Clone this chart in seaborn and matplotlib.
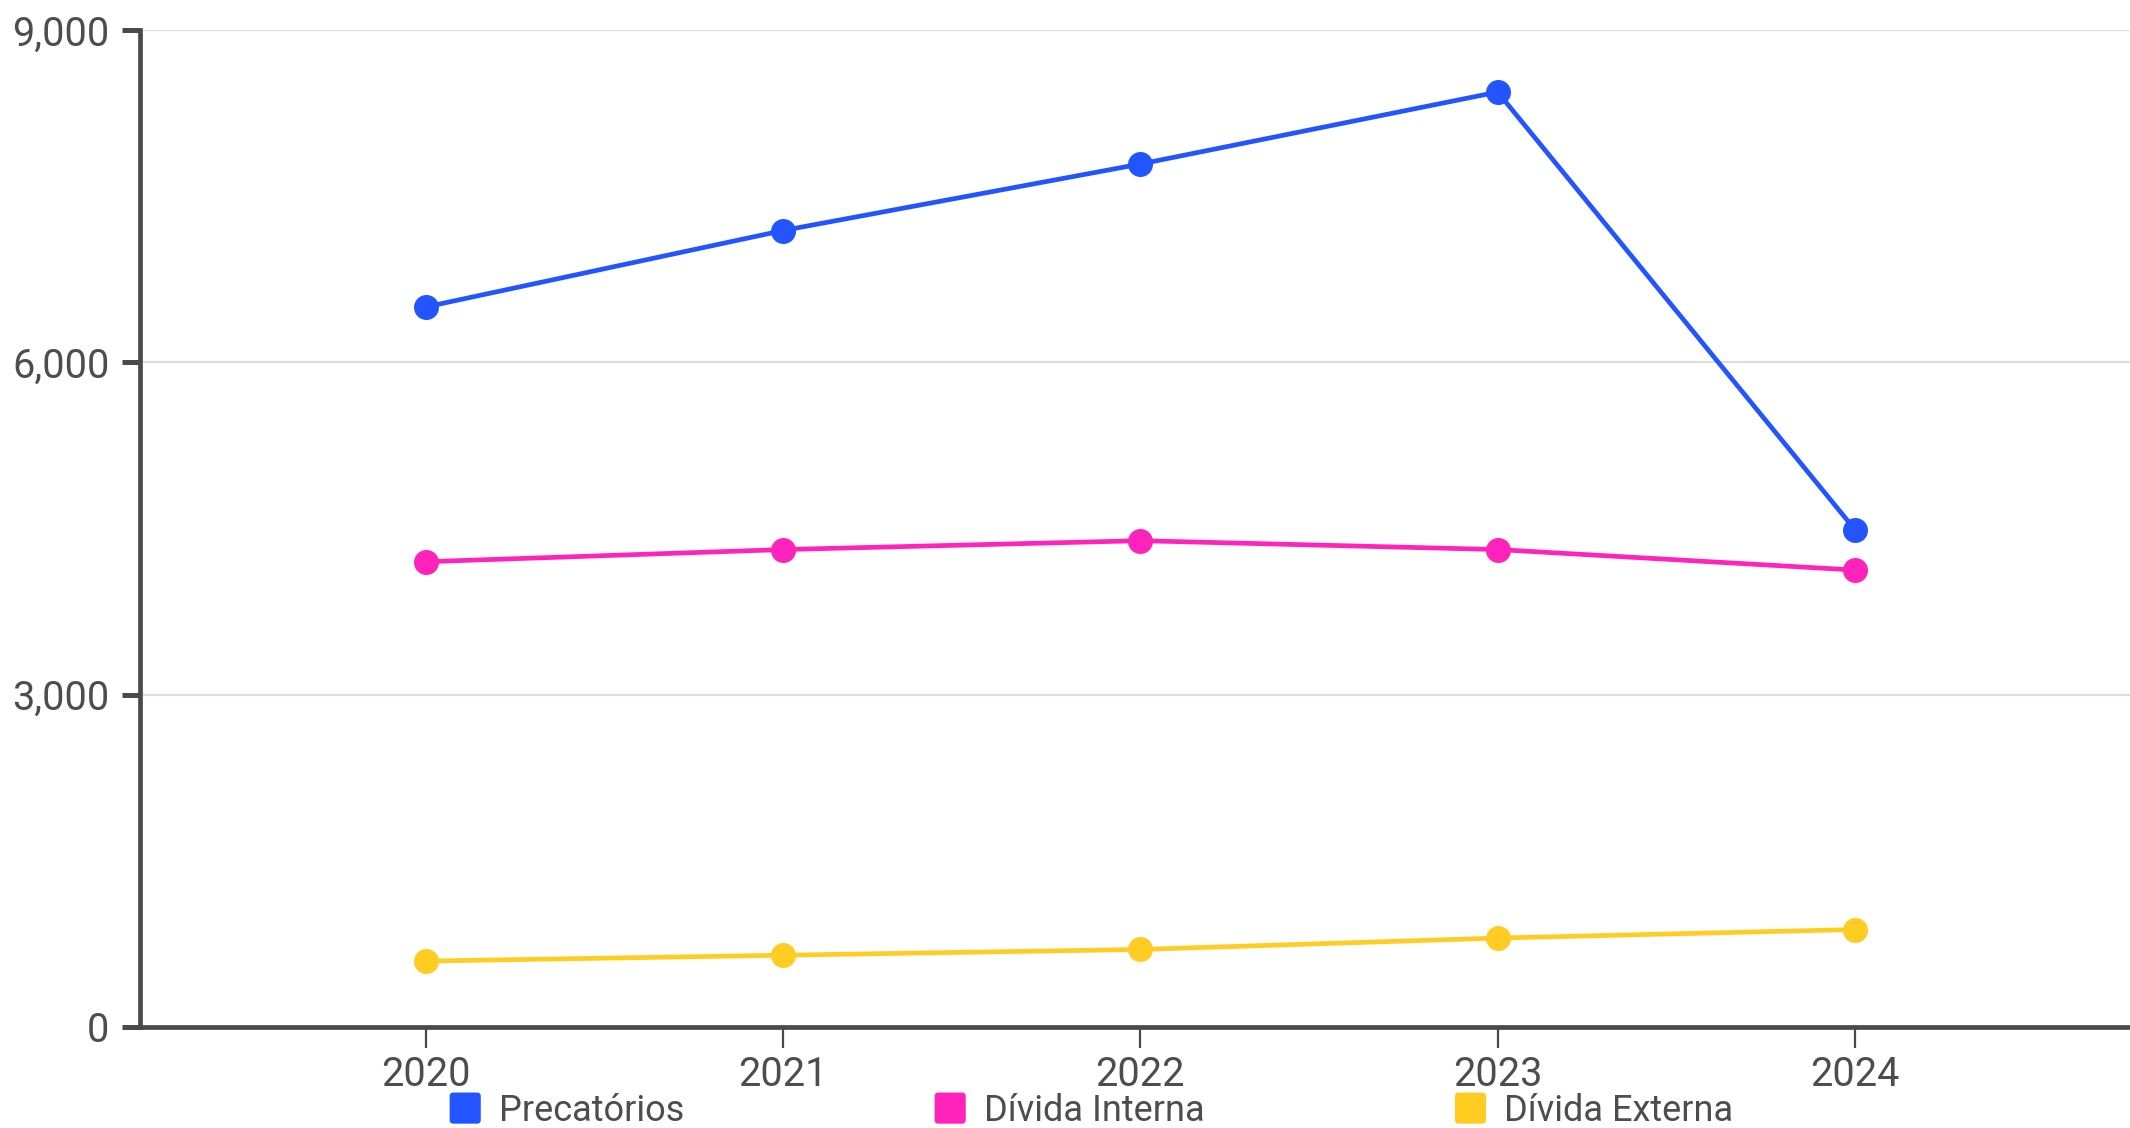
import matplotlib
matplotlib.use("Agg")
import matplotlib.pyplot as plt
from matplotlib.patches import FancyBboxPatch, Patch
from matplotlib.legend_handler import HandlerPatch
from matplotlib.ticker import FuncFormatter
import pandas as pd
import seaborn as sns

anos = [2020, 2021, 2022, 2023, 2024]
precatorios = [6500, 7190, 7790, 8440, 4490]
divida_interna = [4200, 4310, 4390, 4310, 4125]
divida_externa = [595, 648, 700, 803, 880]

series = ["Precatórios", "Dívida Interna", "Dívida Externa"]
cores = ["#2255ff", "#ff22bb", "#ffcc22"]

df = pd.DataFrame({
    "ano": anos * 3,
    "valor": precatorios + divida_interna + divida_externa,
    "serie": [s for s in series for _ in anos],
})

sns.set_theme(style="white")
plt.rcParams["font.family"] = ["Roboto", "DejaVu Sans"]

texto = "#4d4d4d"
eixo = "#4a4a4a"


class QuadradoArredondado(HandlerPatch):
    def create_artists(self, legend, orig_handle, xdescent, ydescent,
                       width, height, fontsize, trans):
        lado = min(width, height)
        x0 = -xdescent + (width - lado) / 2
        y0 = -ydescent + (height - lado) / 2
        p = FancyBboxPatch((x0, y0), lado, lado,
                           boxstyle=f"round,pad=0,rounding_size={lado * 0.12}",
                           facecolor=orig_handle.get_facecolor(),
                           edgecolor="none", transform=trans)
        return [p]


fig = plt.figure(figsize=(21.3, 11.28), dpi=100)
ax = fig.add_axes([140 / 2130, 1 - 1027 / 1128, 1 - 140 / 2130, (1027 - 30) / 1128])

sns.lineplot(
    data=df, x="ano", y="valor", hue="serie", hue_order=series,
    palette=cores, marker="o", markersize=18, markeredgewidth=0,
    linewidth=3.4, legend=False, ax=ax, zorder=3,
)

ax.set_xlim(2019.2, 2024.77)
ax.set_ylim(0, 9000)
ax.set_xticks(anos)
ax.set_yticks([0, 3000, 6000, 9000])
ax.yaxis.set_major_formatter(FuncFormatter(lambda v, p: f"{int(v):,}"))
ax.set_xlabel("")
ax.set_ylabel("")

ax.grid(axis="y", color="#dddddd", linewidth=1.6, zorder=0)
ax.grid(axis="x", visible=False)
for lado in ["top", "right"]:
    ax.spines[lado].set_visible(False)
for lado in ["left", "bottom"]:
    ax.spines[lado].set_color(eixo)
    ax.spines[lado].set_linewidth(3.4)
    ax.spines[lado].set_zorder(4)

ax.tick_params(axis="y", which="major", left=True, length=13, width=3.6,
               color=eixo, labelsize=28.5, labelcolor=texto, pad=9)
ax.tick_params(axis="x", which="major", bottom=True, length=15, width=1.6,
               color=eixo, labelsize=28.5, labelcolor=texto, pad=5)

handles = [Patch(facecolor=c, edgecolor="none", label=s) for s, c in zip(series, cores)]
leg = fig.legend(
    handles=handles, loc="center", bbox_to_anchor=(0.512, 0.0155), ncol=3,
    frameon=False, fontsize=26, labelcolor=texto, handlelength=0.95,
    handleheight=0.95, handletextpad=0.45, columnspacing=6.9, borderpad=0,
    handler_map={Patch: QuadradoArredondado()},
)

fig.savefig("out.png", dpi=100)
